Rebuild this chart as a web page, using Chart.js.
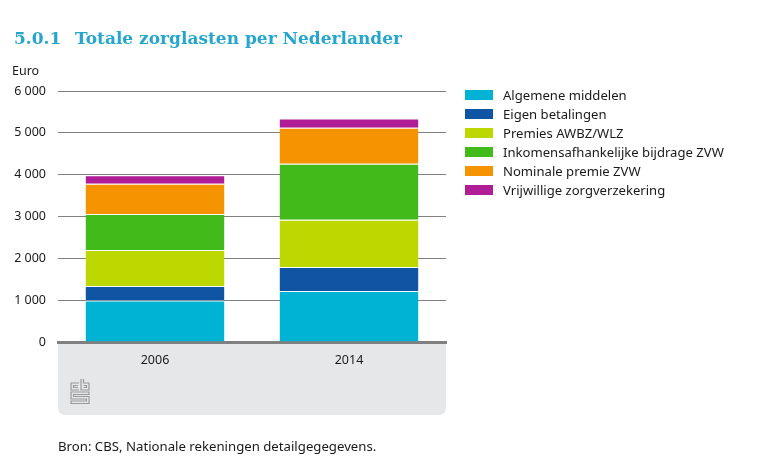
<!DOCTYPE html>
<html>
<head>
<meta charset="utf-8">
<script src="https://cdn.jsdelivr.net/npm/chart.js@4"></script>
<style>
  html, body { margin:0; padding:0; background:#fff; }
  #wrap { position:relative; width:764px; height:467px; overflow:hidden; font-family:"Noto Sans", sans-serif; color:#1a1a1a; }
  #c { position:absolute; left:0; top:0; }
  #title { position:absolute; left:14px; top:28px; font-family:"DejaVu Serif", serif; font-weight:bold; font-size:17px; color:#26a6cc; white-space:nowrap; }
  #title .num { display:inline-block; width:61px; }
  #unit { position:absolute; left:12px; top:62px; font-size:12.5px; }
  #legend { position:absolute; left:465px; top:85px; font-size:13.1px; }
  .row { height:19px; display:flex; align-items:center; white-space:nowrap; }
  .sw { width:28px; height:10px; margin-right:10px; }
  #src { position:absolute; left:58px; top:437px; font-size:13.2px; }
</style>
</head>
<body>
<div id="wrap">
  <canvas id="c" width="764" height="467"></canvas>
  <div id="title"><span class="num">5.0.1</span>Totale zorglasten per Nederlander</div>
  <div id="unit">Euro</div>
  <div id="legend"></div>
  <div id="src">Bron: CBS, Nationale rekeningen detailgegegevens.</div>
</div>
<script>
const categories = ['2006', '2014'];
const algemeneMiddelen = [990, 1220];
const eigenBetalingen = [350, 575];
const premiesAWBZ = [860, 1125];
const inkomensafhankelijk = [860, 1340];
const nominalePremie = [720, 862];
const vrijwillig = [205, 222];
const yTicks = [0, 1000, 2000, 3000, 4000, 5000, 6000];

const seriesNames = ['Algemene middelen', 'Eigen betalingen', 'Premies AWBZ/WLZ', 'Inkomensafhankelijke bijdrage ZVW', 'Nominale premie ZVW', 'Vrijwillige zorgverzekering'];
const seriesData = [algemeneMiddelen, eigenBetalingen, premiesAWBZ, inkomensafhankelijk, nominalePremie, vrijwillig];
const seriesColors = ['#00b3d5', '#1055a3', '#bdd700', '#42ba1a', '#f59300', '#b01e97'];

const PL = 58, PR = 446, PT = 91, PB = 342;

const legend = document.getElementById('legend');
seriesNames.forEach((n, i) => {
  const r = document.createElement('div'); r.className = 'row';
  const s = document.createElement('div'); s.className = 'sw'; s.style.background = seriesColors[i];
  const t = document.createElement('span'); t.textContent = n;
  r.appendChild(s); r.appendChild(t); legend.appendChild(r);
});

const panelPlugin = {
  id: 'panel',
  beforeDraw(chart) {
    const ctx = chart.ctx, a = chart.chartArea;
    const x = a.left, y = a.bottom, w = a.right - a.left, h = 415 - a.bottom, r = 7;
    ctx.save();
    ctx.fillStyle = '#e6e7e8';
    ctx.beginPath();
    ctx.moveTo(x, y);
    ctx.lineTo(x + w, y);
    ctx.lineTo(x + w, y + h - r);
    ctx.quadraticCurveTo(x + w, y + h, x + w - r, y + h);
    ctx.lineTo(x + r, y + h);
    ctx.quadraticCurveTo(x, y + h, x, y + h - r);
    ctx.closePath();
    ctx.fill();
    // CBS logo
    ctx.strokeStyle = '#9a9a9a';
    ctx.lineWidth = 1.2;
    const lx = 71, ly = 379;
    ctx.beginPath();
    ctx.moveTo(lx + 8, ly + 4); ctx.lineTo(lx, ly + 4); ctx.lineTo(lx, ly + 11); ctx.lineTo(lx + 8, ly + 11);
    ctx.moveTo(lx + 7, ly + 6.5); ctx.lineTo(lx + 2.5, ly + 6.5); ctx.lineTo(lx + 2.5, ly + 8.5); ctx.lineTo(lx + 7, ly + 8.5);
    ctx.moveTo(lx + 10, ly); ctx.lineTo(lx + 10, ly + 11); ctx.lineTo(lx + 18, ly + 11); ctx.lineTo(lx + 18, ly + 4); ctx.lineTo(lx + 12.5, ly + 4); ctx.lineTo(lx + 12.5, ly);
    ctx.moveTo(lx + 12.5, ly + 6.5); ctx.lineTo(lx + 15.5, ly + 6.5); ctx.lineTo(lx + 15.5, ly + 8.5); ctx.lineTo(lx + 12.5, ly + 8.5);
    ctx.moveTo(lx + 18, ly + 13); ctx.lineTo(lx, ly + 13); ctx.lineTo(lx, ly + 20); ctx.lineTo(lx + 15.5, ly + 20); ctx.lineTo(lx + 15.5, ly + 22); ctx.lineTo(lx, ly + 22); ctx.lineTo(lx, ly + 24.5); ctx.lineTo(lx + 18, ly + 24.5); ctx.lineTo(lx + 18, ly + 17.5); ctx.lineTo(lx + 2.5, ly + 17.5); ctx.lineTo(lx + 2.5, ly + 15.5); ctx.lineTo(lx + 18, ly + 15.5); ctx.closePath();
    ctx.stroke();
    ctx.restore();
  }
};

new Chart(document.getElementById('c'), {
  type: 'bar',
  data: {
    labels: categories,
    datasets: seriesNames.map((n, i) => ({
      label: n,
      data: seriesData[i],
      backgroundColor: seriesColors[i],
      borderColor: '#ffffff',
      borderWidth: { top: 1, left: 0, right: 0, bottom: 0 },
      borderSkipped: false,
      categoryPercentage: 1,
      barPercentage: 0.716
    }))
  },
  options: {
    responsive: false,
    animation: false,
    devicePixelRatio: 1,
    layout: { padding: { left: 0, right: 764 - PR, top: PT, bottom: 0 } },
    plugins: { legend: { display: false }, tooltip: { enabled: false } },
    scales: {
      x: {
        stacked: true,
        afterFit(s) { s.height = 467 - PB; },
        grid: { display: false, drawTicks: false },
        border: { display: true, color: '#808080', width: 3 },
        ticks: { color: '#1a1a1a', font: { family: 'Noto Sans', size: 12.5 }, padding: 11 }
      },
      y: {
        stacked: true,
        min: 0, max: 6000,
        afterFit(s) { s.width = PL; },
        afterBuildTicks(s) { s.ticks = yTicks.map(v => ({ value: v })); },
        grid: { color: '#808080', lineWidth: 1, drawTicks: false },
        border: { display: false },
        ticks: {
          color: '#1a1a1a', font: { family: 'Noto Sans', size: 12.5 }, padding: 12,
          callback: v => String(v).replace(/\B(?=(\d{3})+(?!\d))/g, ' ')
        }
      }
    }
  },
  plugins: [panelPlugin]
});
</script>
</body>
</html>
